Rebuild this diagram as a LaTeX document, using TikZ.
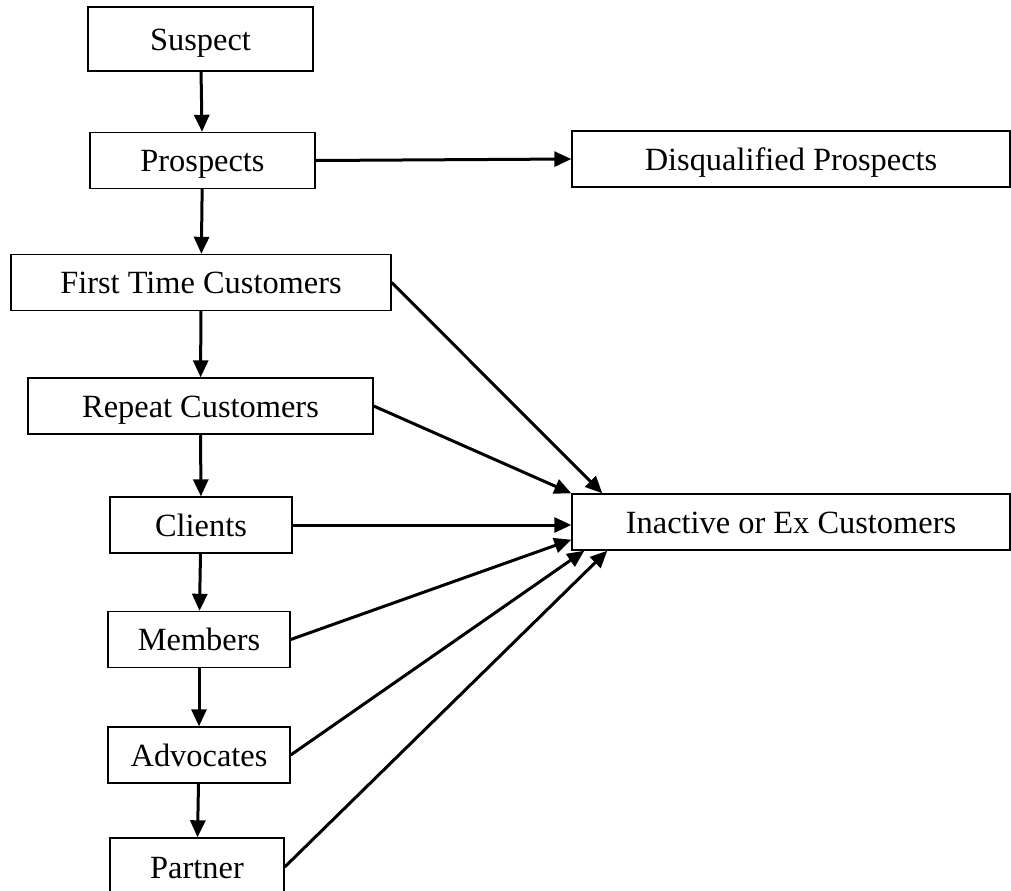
\documentclass[tikz,border=0pt]{standalone}
\usepackage{fontspec}
\setmainfont{Liberation Serif}
\usetikzlibrary{arrows.meta,calc}

\begin{document}
\begin{tikzpicture} [
       x=0.5pt, y=-0.5pt,
       box/.style={draw, line width=0.7pt, minimum height=28pt,
               inner sep=0pt, text height=11pt, text depth=0pt,
               font=\fontsize{16.2}{19}\selectfont},
        line/.style     = { draw, line width=1.5pt,
               -{Triangle[length=8.5pt,width=7.5pt]} },
       ]
       \useasboundingbox (0,0) rectangle (1011,890);
       \node (suspect) [box, minimum width=112.5pt, minimum height=32pt] at (200.5,39) {Suspect};
       \node (prospects) [box, minimum width=112.5pt] at (202.5,160.5) {Prospects};
       \node (disq) [box, minimum width=219pt] at (791,159) {Disqualified Prospects};
       \node (first) [box, minimum width=190pt] at (201,282.5) {First Time Customers};
       \node (repeat) [box, minimum width=172.5pt] at (200.5,406) {Repeat Customers};
       \node (clients) [box, minimum width=91pt] at (201,525) {Clients};
       \node (inactive) [box, minimum width=219pt] at (791,522) {Inactive or Ex Customers};
       \node (members) [box, minimum width=91pt] at (199,639.5) {Members};
       \node (advocates) [box, minimum width=91pt] at (199,755) {Advocates};
       \node (partner) [box, minimum width=87pt, minimum height=29pt] at (197,867) {Partner};
        \begin{scope}[every path/.style=line]
        \path (suspect) -- (prospects);
        \path (prospects) -- (first);
        \path (first) -- (repeat);
        \path (repeat) -- (clients);
        \path (clients) -- (members);
        \path (members) -- (advocates);
        \path (advocates) -- (partner);
        \path (prospects.east) -- (disq.west);
        \path (first.east) -- ($(inactive.north west)+(31,0)$);
        \path (repeat.east) -- (inactive.north west);
        \path (clients.east) -- (clients.east -| inactive.west);
        \path (members.east) -- ($(inactive.south west)+(0,-11)$);
        \path (advocates.east) -- ($(inactive.south west)+(13,0)$);
        \path (partner.east) -- ($(inactive.south west)+(36,0)$);
\end{scope}
\end{tikzpicture}
\end{document}
